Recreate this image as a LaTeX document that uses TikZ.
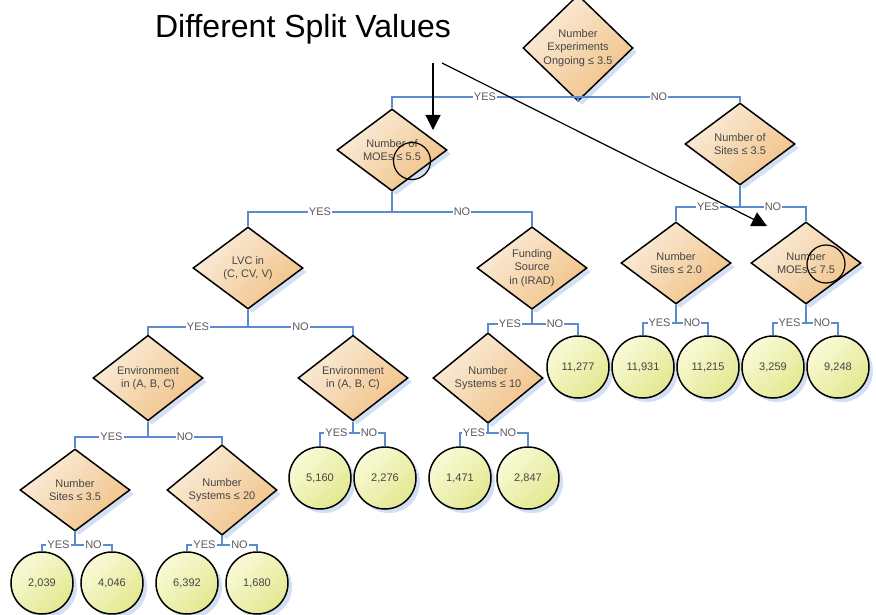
\documentclass[tikz,border=0pt]{standalone}
\usepackage{fontspec}
\setmainfont{Liberation Sans}
\usetikzlibrary{shapes.geometric,shadows,arrows.meta}

\definecolor{branchblue}{HTML}{5B8BD0}
\definecolor{peachlight}{HTML}{FAEDDC}
\definecolor{peachdark}{HTML}{F1C286}
\definecolor{leaflight}{HTML}{FAFAD8}
\definecolor{leafdark}{HTML}{E2E890}
\definecolor{shadowblue}{HTML}{D3DFF3}
\definecolor{textgray}{HTML}{454545}
\definecolor{labelgray}{HTML}{5A5A5A}

\begin{document}
\begin{tikzpicture}[x=1pt,y=-1pt,
  softshadow/.style={drop shadow={shadow xshift=4pt,shadow yshift=-4pt,fill=shadowblue,opacity=1}},
  split/.style={diamond,draw=black,line width=1.5pt,minimum width=110pt,minimum height=82pt,
    inner sep=0pt,align=center,font=\fontsize{11}{13.5}\selectfont,text=textgray,
    top color=peachlight,bottom color=peachdark,shading angle=45,softshadow},
  leaf/.style={circle,draw=black,line width=1.5pt,minimum size=62pt,inner sep=0pt,
    font=\fontsize{11}{12}\selectfont,text=textgray,
    top color=leaflight,bottom color=leafdark,shading angle=45,softshadow},
  branch/.style={draw=branchblue,line width=1.6pt},
  lbl/.style={fill=white,inner sep=1pt,text=labelgray,font=\fontsize{11}{11}\selectfont},
  ring/.style={circle,draw=black,line width=1.2pt,inner sep=0pt},
  pointer/.style={draw=black,line width=1.2pt,-{Triangle[length=15pt,width=15pt]}}
]
\fill[white] (0,0) rectangle (876,615);
\useasboundingbox (0,0) rectangle (876,615);

% decision nodes
\node[split] (root)     at (578,48)  {Number\\Experiments\\Ongoing ≤ 3.5};
\node[split] (moesA)    at (392,150) {Number of\\MOEs ≤ 5.5};
\node[split] (sitesA)   at (740,144) {Number of\\Sites ≤ 3.5};
\node[split] (lvc)      at (248,268) {LVC in\\(C, CV, V)};
\node[split] (fund)     at (532,268) {Funding\\Source\\in (IRAD)};
\node[split] (sitesB)   at (676,263) {Number\\Sites ≤ 2.0};
\node[split] (moesB)    at (806,263) {Number\\MOEs ≤ 7.5};
\node[split] (envA)     at (148,378) {Environment\\in (A, B, C)};
\node[split] (envB)     at (353,378) {Environment\\in (A, B, C)};
\node[split] (sysA)     at (488,378) {Number\\Systems ≤ 10};
\node[split] (sitesC)   at (75,490)  {Number\\Sites ≤ 3.5};
\node[split] (sysB)     at (222,490) {Number\\Systems ≤ 20};

% leaf nodes
\node[leaf] (l11277) at (578,367) {11,277};
\node[leaf] (l11931) at (643,367) {11,931};
\node[leaf] (l11215) at (708,367) {11,215};
\node[leaf] (l3259)  at (773,367) {3,259};
\node[leaf] (l9248)  at (838,367) {9,248};
\node[leaf] (l5160)  at (320,478) {5,160};
\node[leaf] (l2276)  at (385,478) {2,276};
\node[leaf] (l1471)  at (460,478) {1,471};
\node[leaf] (l2847)  at (528,478) {2,847};
\node[leaf] (l2039)  at (42,583)  {2,039};
\node[leaf] (l4046)  at (112,583) {4,046};
\node[leaf] (l6392)  at (187,583) {6,392};
\node[leaf] (l1680)  at (257,583) {1,680};

% branch junctions
\coordinate (jroot)   at (578,97);
\coordinate (jmoesA)  at (392,212);
\coordinate (jsitesA) at (740,207);
\coordinate (jlvc)    at (248,327);
\coordinate (jfund)   at (532,324);
\coordinate (jsitesB) at (676,323);
\coordinate (jmoesB)  at (806,323);
\coordinate (jenvA)   at (148,437);
\coordinate (jenvB)   at (353,433);
\coordinate (jsysA)   at (488,433);
\coordinate (jsitesC) at (75,545);
\coordinate (jsysB)   at (222,545);

% branches: stem, then YES to the left and NO to the right
\foreach \p/\j/\y/\n in {root/jroot/moesA/sitesA, moesA/jmoesA/lvc/fund,
    sitesA/jsitesA/sitesB/moesB, lvc/jlvc/envA/envB, fund/jfund/sysA/l11277,
    sitesB/jsitesB/l11931/l11215, moesB/jmoesB/l3259/l9248, envA/jenvA/sitesC/sysB,
    envB/jenvB/l5160/l2276, sysA/jsysA/l1471/l2847, sitesC/jsitesC/l2039/l4046,
    sysB/jsysB/l6392/l1680}{
  \draw[branch] (\p.south) -- (\j);
  \draw[branch] (\j) -| node[lbl,pos=0.25] {YES} (\y.north);
  \draw[branch] (\j) -| node[lbl,pos=0.25] {NO} (\n.north);
}

% callout
\node[font=\fontsize{32}{32}\selectfont,anchor=base] (callout) at (303,38) {Different Split Values};
\coordinate (startA) at (433,63);
\coordinate (tipA)   at (433,130);
\coordinate (startB) at (442,63);
\coordinate (tipB)   at (767,226);
\draw[pointer] (startA) -- (tipA);
\draw[pointer] (startB) -- (tipB);
\node[ring,minimum size=37pt] (ringA) at (412,161) {};
\node[ring,minimum size=38pt] (ringB) at (826,264) {};
\end{tikzpicture}
\end{document}
